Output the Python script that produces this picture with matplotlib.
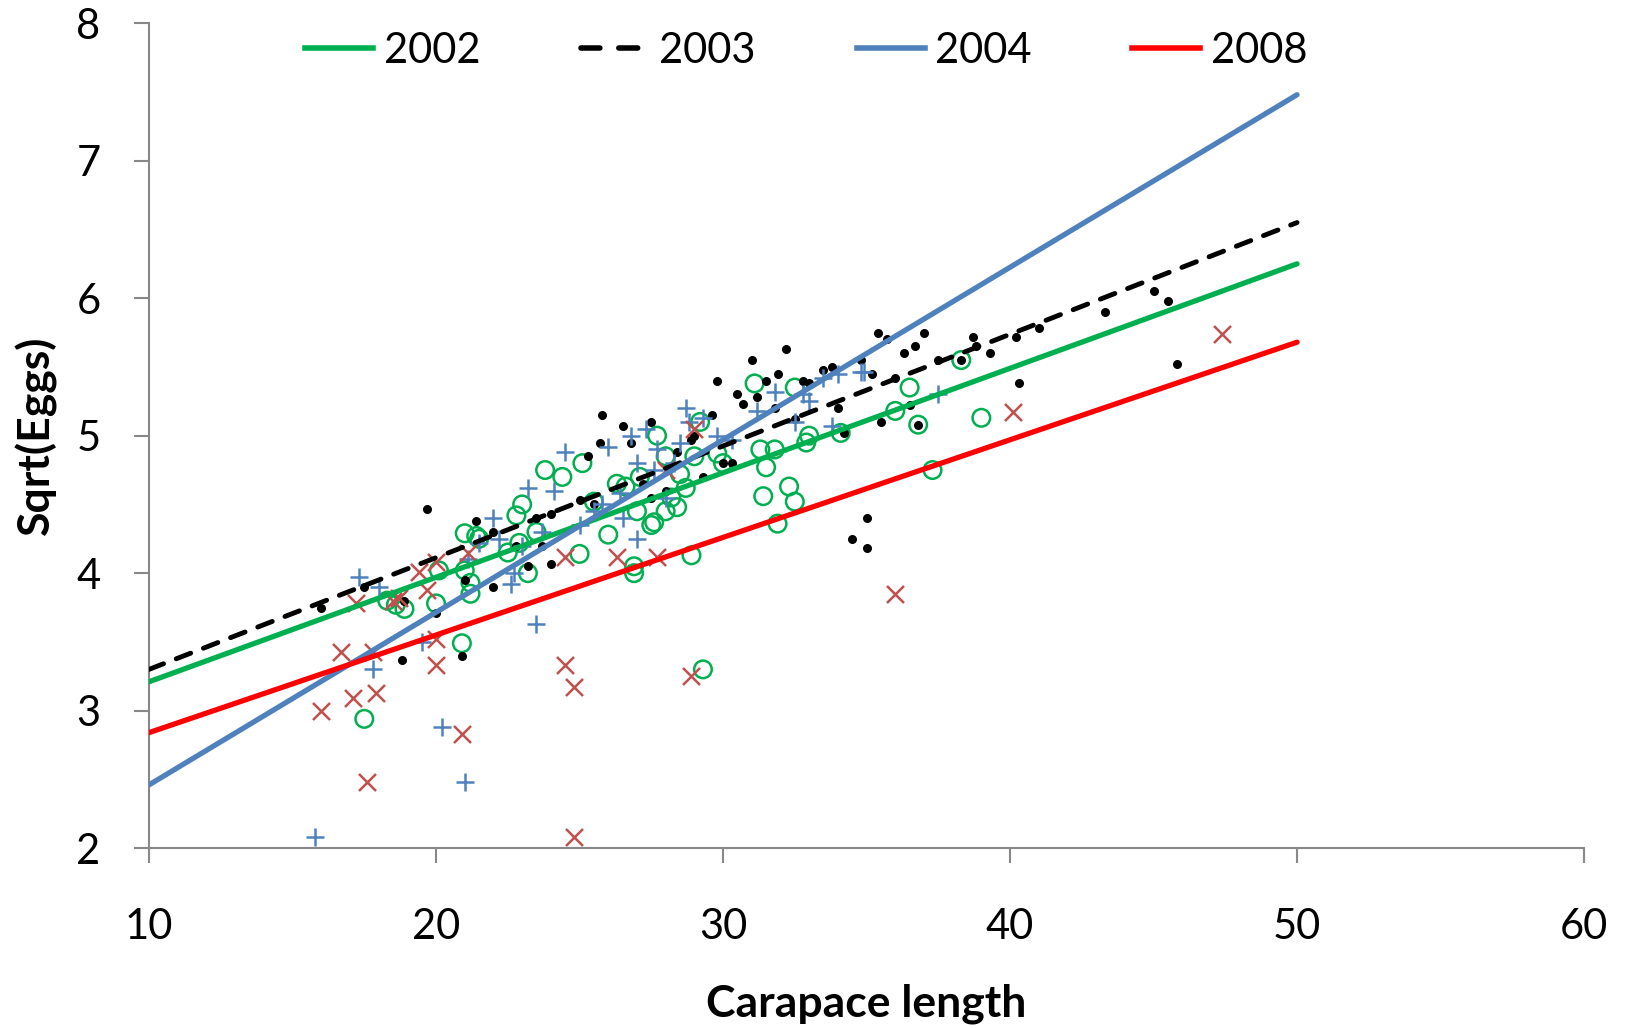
import matplotlib.pyplot as plt
from matplotlib.lines import Line2D
import numpy as np

plt.rcParams['font.family'] = ['Lato', 'DejaVu Sans']

# fitted lines (endpoints at x=10 and x=50)
fit_x = [10, 50]
fit_2002 = [3.21, 6.25]
fit_2003 = [3.30, 6.55]
fit_2004 = [2.46, 7.48]
fit_2008 = [2.84, 5.68]

# 2002 - open green circles
x2002 = [17.5, 18.3, 18.6, 18.9, 20.0, 20.1, 20.9, 21.0, 21.0, 21.2, 21.2, 21.4, 21.5, 22.5,
         22.8, 22.9, 23.0, 23.2, 23.5, 23.8, 24.4, 25.0, 25.1, 25.5, 26.0, 26.3, 26.6, 26.9,
         26.9, 27.0, 27.1, 27.5, 27.6, 27.7, 28.0, 28.0, 28.2, 28.4, 28.5, 28.7, 28.9, 29.0,
         29.2, 29.3, 29.8, 30.0, 31.1, 31.3, 31.4, 31.5, 31.8, 31.9, 32.3, 32.5, 32.5, 32.9,
         33.0, 34.1, 36.0, 36.5, 36.8, 37.3, 38.3, 39.0]
y2002 = [2.94, 3.80, 3.77, 3.74, 3.78, 4.02, 3.49, 4.02, 4.29, 3.85, 3.93, 4.27, 4.25, 4.15,
         4.42, 4.22, 4.50, 4.00, 4.30, 4.75, 4.70, 4.14, 4.80, 4.52, 4.28, 4.65, 4.63, 4.05,
         4.00, 4.45, 4.70, 4.35, 4.37, 5.00, 4.45, 4.85, 4.55, 4.48, 4.72, 4.62, 4.13, 4.85,
         5.10, 3.30, 4.87, 4.80, 5.38, 4.90, 4.56, 4.77, 4.90, 4.36, 4.63, 4.52, 5.35, 4.95,
         5.00, 5.02, 5.18, 5.35, 5.08, 4.75, 5.55, 5.13]

# 2003 - black dots
x2003 = [16.0, 17.5, 18.8, 18.9, 20.0, 19.7, 20.9, 21.0, 21.4, 22.0, 22.0, 22.8, 23.2, 23.5,
         23.7, 24.0, 24.0, 25.0, 25.3, 25.5, 25.8, 25.7, 26.5, 26.8, 27.2, 27.5, 27.5, 28.0,
         28.4, 28.9, 29.0, 29.3, 29.6, 29.8, 30.0, 30.3, 30.5, 30.7, 31.0, 31.2, 31.5, 31.8,
         31.9, 32.2, 32.5, 32.8, 33.0, 33.5, 33.8, 34.0, 34.2, 34.5, 34.8, 35.0, 35.0, 35.2,
         35.4, 35.5, 35.7, 36.0, 36.3, 36.5, 36.7, 36.8, 37.0, 37.5, 38.3, 38.7, 38.8, 39.3,
         40.2, 40.3, 41.0, 43.3, 45.0, 45.5, 45.8]
y2003 = [3.75, 3.90, 3.37, 3.80, 3.71, 4.47, 3.40, 3.95, 4.38, 3.90, 4.30, 4.20, 4.05, 4.40,
         4.20, 4.07, 4.43, 4.53, 4.85, 4.50, 5.15, 4.95, 5.07, 4.95, 4.65, 4.55, 5.10, 4.60,
         4.88, 4.97, 5.00, 4.70, 5.15, 5.40, 4.80, 4.80, 5.30, 5.23, 5.55, 5.28, 5.40, 5.20,
         5.45, 5.63, 5.12, 5.40, 5.38, 5.48, 5.50, 5.20, 5.02, 4.25, 5.55, 4.40, 4.18, 5.45,
         5.75, 5.10, 5.70, 5.42, 5.60, 5.22, 5.65, 5.08, 5.75, 5.55, 5.55, 5.72, 5.65, 5.60,
         5.72, 5.38, 5.78, 5.90, 6.05, 5.98, 5.52]

# 2004 - blue plus
x2004 = [15.8, 17.3, 17.8, 18.0, 19.5, 20.2, 21.0, 21.1, 21.5, 22.0, 22.2, 22.7, 22.6, 23.0,
         23.2, 23.5, 23.7, 24.1, 24.5, 25.0, 25.5, 25.8, 26.0, 26.4, 26.5, 26.8, 27.0, 27.0,
         27.3, 27.6, 27.7, 28.0, 28.3, 28.5, 28.7, 28.8, 29.3, 29.8, 30.3, 31.2, 31.8, 32.5,
         32.8, 33.0, 33.5, 34.0, 33.8, 34.8, 34.9, 37.5]
y2004 = [2.08, 3.97, 3.30, 3.90, 3.50, 2.88, 2.48, 4.10, 4.22, 4.40, 4.25, 4.00, 3.92, 4.20,
         4.62, 3.63, 4.30, 4.60, 4.88, 4.35, 4.45, 4.50, 4.92, 4.58, 4.40, 5.00, 4.80, 4.25,
         5.05, 4.75, 4.90, 4.55, 4.80, 4.95, 5.20, 5.10, 5.13, 5.00, 4.97, 5.18, 5.32, 5.10,
         5.30, 5.25, 5.42, 5.45, 5.07, 5.46, 5.46, 5.30]

# 2008 - red x
x2008 = [16.0, 16.7, 17.1, 17.2, 17.6, 17.8, 17.9, 18.5, 18.7, 19.4, 19.7, 20.0, 20.0, 20.0,
         20.9, 21.1, 24.5, 24.5, 24.8, 24.8, 26.3, 27.7, 28.0, 28.9, 29.0, 36.0, 40.1, 47.4]
y2008 = [3.00, 3.43, 3.09, 3.78, 2.48, 3.43, 3.13, 3.80, 3.82, 4.01, 3.88, 3.33, 3.52, 4.08,
         2.83, 4.15, 4.12, 3.33, 3.17, 2.08, 4.12, 4.12, 4.75, 3.25, 5.05, 3.85, 5.17, 5.74]

green = '#00B050'
blue = '#4F81BD'
red = '#FF0000'
xred = '#C0504D'

fig = plt.figure(figsize=(16.27, 10.28), dpi=100)
ax = fig.add_axes([0.0916, 0.175, 0.882, 0.8024])

ax.scatter(x2002, y2002, s=160, facecolors='none', edgecolors=green, linewidths=1.8, zorder=3)
ax.scatter(x2003, y2003, s=30, color='black', zorder=3)
ax.scatter(x2004, y2004, s=150, marker='+', color=blue, linewidths=1.8, zorder=3)
ax.scatter(x2008, y2008, s=150, marker='x', color=xred, linewidths=1.8, zorder=3)

ax.plot(fit_x, fit_2002, color=green, lw=3.8, solid_capstyle='round', zorder=4)
ax.plot(fit_x, fit_2003, color='black', lw=3.5, dashes=(3.2, 2.8),
        dash_capstyle='round', zorder=4)
ax.plot(fit_x, fit_2004, color=blue, lw=3.8, solid_capstyle='round', zorder=4)
ax.plot(fit_x, fit_2008, color=red, lw=3.8, solid_capstyle='round', zorder=4)

ax.set_xlim(10, 60)
ax.set_ylim(2, 8)
ax.set_xticks(np.arange(10, 61, 10))
ax.set_yticks(np.arange(2, 9, 1))
for side in ['top', 'right']:
    ax.spines[side].set_visible(False)
for side in ['left', 'bottom']:
    ax.spines[side].set_color('#888888')
    ax.spines[side].set_linewidth(1.5)
ax.tick_params(axis='both', colors='#888888', width=1.5, length=11, labelsize=30,
               labelcolor='black', direction='out')
ax.tick_params(axis='x', pad=32)
ax.tick_params(axis='y', pad=24)

ax.set_xlabel('Carapace length', fontsize=32, fontweight='bold', labelpad=27)
ax.set_ylabel('Sqrt(Eggs)', fontsize=32, fontweight='bold', labelpad=14)

handles = [Line2D([], [], color=green, lw=4),
           Line2D([], [], color='black', lw=4, dashes=(3.4, 3.4), dash_capstyle='round'),
           Line2D([], [], color=blue, lw=4),
           Line2D([], [], color=red, lw=4)]
ax.legend(handles, ['2002', '2003', '2004', '2008'], loc='upper center',
          bbox_to_anchor=(0.458, 1.035), ncol=4, frameon=False, fontsize=30,
          handlelength=1.63, handletextpad=0.25, columnspacing=2.42)

fig.savefig('out.png', dpi=100)
